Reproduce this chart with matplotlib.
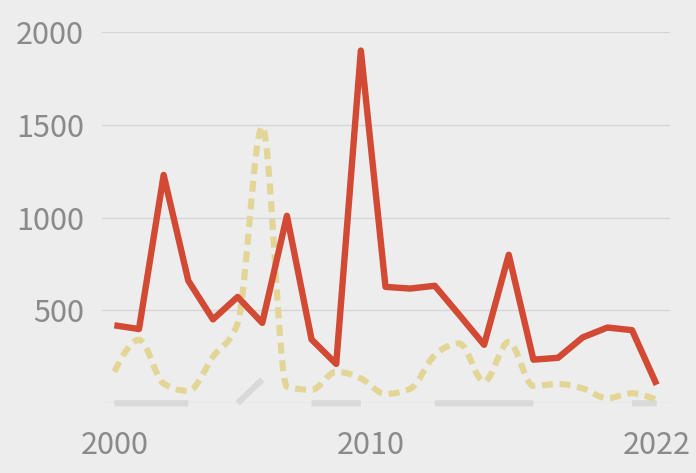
import numpy as np
import matplotlib
matplotlib.use("Agg")
import matplotlib.pyplot as plt
from matplotlib.path import Path
from matplotlib.patches import PathPatch
from matplotlib.transforms import ScaledTranslation

years = np.arange(2000, 2023)

# solid red series
red_vals = [420, 400, 1230, 660, 452, 573, 433, 1010, 344, 212, 1900, 627,
            618, 633, 475, 315, 800, 235, 245, 355, 408, 394, 100]
# dashed yellow series (smoothed curve)
yellow_vals = [170, 342, 106, 66, 251, 430, 1490, 90, 72, 170, 134, 50,
               78, 260, 322, 116, 331, 93, 104, 80, 27, 54, 18]
# grey series, gaps where there is no value
grey_vals = [0, 0, 0, 0, np.nan, 0, 128, np.nan, 0, 0, 0, np.nan,
             np.nan, 0, 0, 0, 0, 0, np.nan, np.nan, np.nan, 0, 0]

y_ticks = [0, 500, 1000, 1500, 2000]
y_labels = ["", "500", "1000", "1500", "2000"]
x_ticks = [2000, 2010, 2022]

bg = "#ededed"
text_col = "#8a8a8a"


def monotone_path(x, y):
    # monotone cubic curve (like d3 curveMonotoneX) as a bezier path
    x = np.asarray(x, float)
    y = np.asarray(y, float)
    n = len(x)
    h = np.diff(x)
    s = np.diff(y) / h
    t = np.zeros(n)
    for i in range(1, n - 1):
        h0, h1 = h[i - 1], h[i]
        s0, s1 = s[i - 1], s[i]
        p = (s0 * h1 + s1 * h0) / (h0 + h1)
        t[i] = (np.sign(s0) + np.sign(s1)) * min(abs(s0), abs(s1), 0.5 * abs(p))
    t[0] = (3 * s[0] - t[1]) / 2
    t[-1] = (3 * s[-1] - t[-2]) / 2
    verts = [(x[0], y[0])]
    codes = [Path.MOVETO]
    for i in range(n - 1):
        dx = h[i] / 3
        verts += [(x[i] + dx, y[i] + dx * t[i]),
                  (x[i + 1] - dx, y[i + 1] - dx * t[i + 1]),
                  (x[i + 1], y[i + 1])]
        codes += [Path.CURVE4] * 3
    return Path(verts, codes)


fig = plt.figure(figsize=(6.96, 4.73), dpi=100, facecolor=bg)
ax = fig.add_axes([0.1466, 0.1474, 0.8160, 0.7849])
ax.set_facecolor(bg)

ax.plot(years, grey_vals, color="#d9d9d9", lw=4.4, solid_capstyle="butt",
        clip_on=False, zorder=2)

ax.add_patch(PathPatch(monotone_path(years, yellow_vals), fill=False,
                       edgecolor="#e2d596", lw=4.4, linestyle=(0, (1.8, 1.1)),
                       capstyle="butt", clip_on=False, zorder=3))

ax.plot(years, red_vals, color="#d24a33", lw=4.6, solid_capstyle="butt",
        solid_joinstyle="round", clip_on=False, zorder=4)

ax.set_xlim(1999.5, 2022.54)
ax.set_ylim(0, 2000)
ax.set_yticks(y_ticks)
ax.set_yticklabels(y_labels)
ax.set_xticks(x_ticks)
ax.set_xticklabels([str(v) for v in x_ticks])
ax.grid(axis="y", color="#d6d6d6", lw=1)
ax.grid(axis="x", visible=False)
ax.set_axisbelow(True)
for sp in ax.spines.values():
    sp.set_visible(False)
ax.tick_params(length=0, labelsize=22, labelcolor=text_col, pad=0)
ax.tick_params(axis="y", pad=13)
ax.tick_params(axis="x", pad=19)
for lab in ax.get_xticklabels() + ax.get_yticklabels():
    lab.set_family(["Noto Sans CJK JP", "DejaVu Sans"])
# the middle year label sits a bit right of its point
lab2010 = ax.get_xticklabels()[1]
lab2010.set_transform(lab2010.get_transform() + ScaledTranslation(0.1, 0, fig.dpi_scale_trans))

fig.savefig("out.png", dpi=100, facecolor=bg)
